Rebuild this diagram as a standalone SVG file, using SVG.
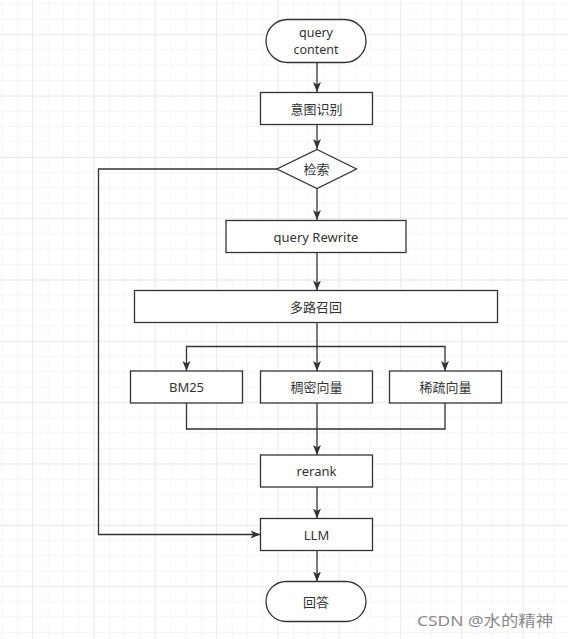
<svg xmlns="http://www.w3.org/2000/svg" width="568" height="639" viewBox="0 0 568 639">
<defs>
<pattern id="minor" patternUnits="userSpaceOnUse" x="1.7" y="3.3" width="15.33" height="15.33">
<path d="M0 0V15.33M0 0H15.33" fill="none" stroke="#f2f2f2" stroke-width="1.3"/>
</pattern>
<pattern id="major" patternUnits="userSpaceOnUse" x="32" y="34.3" width="61.33" height="61.33">
<path d="M0 0V61.33M0 0H61.33" fill="none" stroke="#e6e6e6" stroke-width="1.3"/>
</pattern>
<marker id="arr" markerWidth="10" markerHeight="10" viewBox="0 0 10 10" refX="10" refY="5" orient="auto" markerUnits="userSpaceOnUse">
<path d="M0 1L10 5L0 9L2.5 5Z" fill="#333"/>
</marker>
</defs>
<style>
.n{fill:#fff;stroke:#333;stroke-width:1.3}
.t{font-family:"Noto Sans","Noto Sans CJK SC",sans-serif;font-size:13px;fill:#333;text-anchor:middle;dominant-baseline:central}
.s{font-size:12.5px}
.c{fill:none;stroke:#333;stroke-width:1.3}
</style>
<rect width="568" height="639" fill="#fff"/>
<rect width="568" height="639" fill="url(#minor)"/>
<rect width="568" height="639" fill="url(#major)"/>
<g id="connectors">
<path class="c" d="M317 62.5V92" marker-end="url(#arr)"/>
<path class="c" d="M317 124.5V149" marker-end="url(#arr)"/>
<path class="c" d="M317 188.5V220" marker-end="url(#arr)"/>
<path class="c" d="M317 252.5V290.5" marker-end="url(#arr)"/>
<path class="c" d="M317 322.5V371" marker-end="url(#arr)"/>
<path class="c" d="M317 346.5H186.5V371" marker-end="url(#arr)"/>
<path class="c" d="M317 346.5H445V371" marker-end="url(#arr)"/>
<path class="c" d="M186.5 403V429H445V403"/>
<path class="c" d="M317 403V455" marker-end="url(#arr)"/>
<path class="c" d="M317 487V518.5" marker-end="url(#arr)"/>
<path class="c" d="M317 550.5V581.5" marker-end="url(#arr)"/>
<path class="c" d="M277 169H98.5V534.5H260.5" marker-end="url(#arr)"/>
</g>
<g id="query-content"><rect class="n" x="266" y="19.5" width="100" height="43" rx="21.5"/><text class="t s" x="316" y="32.5">query</text><text class="t s" x="316" y="49">content</text></g>
<g id="intent"><rect class="n" x="260.5" y="92.5" width="112" height="32"/><text class="t" x="316.5" y="108.5">意图识别</text></g>
<g id="retrieve"><path class="n" d="M317 149.5L356.5 169L317 188.5L277 169Z"/><text class="t" x="316.5" y="169">检索</text></g>
<g id="rewrite"><rect class="n" x="226" y="220.5" width="180" height="32"/><text class="t" x="316" y="236.5">query Rewrite</text></g>
<g id="multi"><rect class="n" x="134.5" y="290.5" width="363" height="32"/><text class="t" x="316" y="306.5">多路召回</text></g>
<g id="bm25"><rect class="n" x="130.5" y="371" width="112" height="32"/><text class="t" x="186.5" y="387">BM25</text></g>
<g id="dense"><rect class="n" x="260.5" y="371" width="112" height="32"/><text class="t" x="316.5" y="387">稠密向量</text></g>
<g id="sparse"><rect class="n" x="389.5" y="371" width="112" height="32"/><text class="t" x="445.5" y="387">稀疏向量</text></g>
<g id="rerank"><rect class="n" x="260.5" y="455" width="112" height="32"/><text class="t" x="316.5" y="471">rerank</text></g>
<g id="llm"><rect class="n" x="260.5" y="518.5" width="112" height="32"/><text class="t" x="316.5" y="534.5">LLM</text></g>
<g id="answer"><rect class="n" x="266" y="581.5" width="100" height="40" rx="20"/><text class="t" x="316" y="601.5">回答</text></g>
<text x="417" y="626" font-family="'Noto Sans','Noto Sans CJK SC',sans-serif" font-size="15" fill="#8a8a8a" textLength="136" lengthAdjust="spacingAndGlyphs">CSDN @水的精神</text>
</svg>
